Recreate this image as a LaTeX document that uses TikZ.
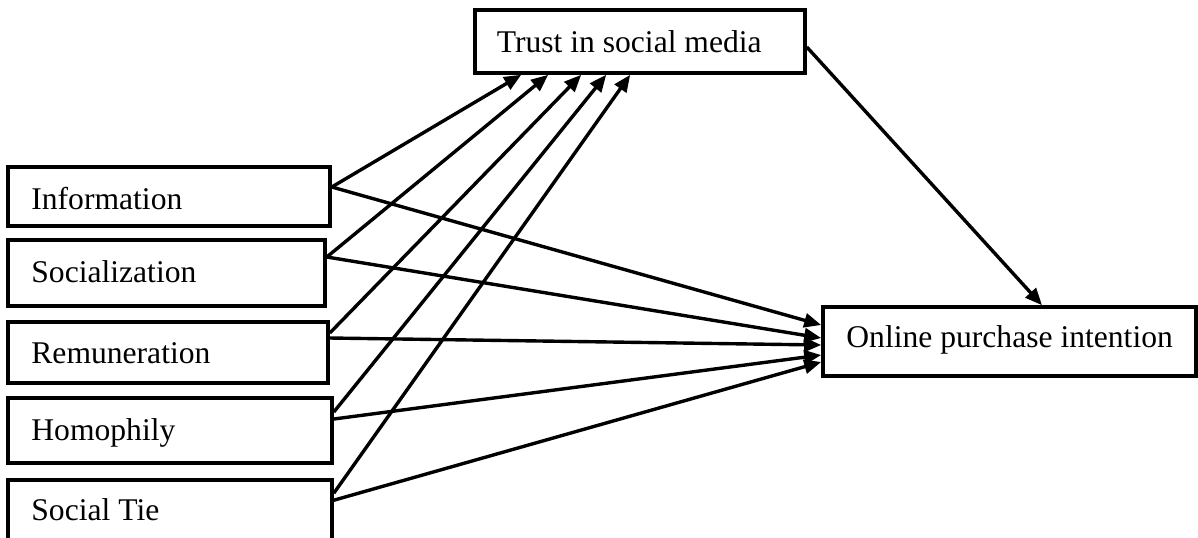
\documentclass[tikz,border=0pt]{standalone}
\usepackage{fontspec}
\setmainfont{Liberation Serif}
\usetikzlibrary{arrows.meta,calc}
\begin{document}
\begin{tikzpicture}[x=0.5pt,y=-0.5pt,
  box/.style={draw=black,line width=1.8pt,rectangle,inner sep=0pt,fill=white},
  lbl/.style={anchor=base west,inner sep=0pt,font=\fontsize{15.8}{19}\selectfont},
  link/.style={line width=1.7pt,-{Triangle[length=8.5pt,width=7pt]}}]
\clip (0,0) rectangle (1198,537);
\fill[white] (0,0) rectangle (1198,537);
% boxes
\node[box,minimum width=161pt,minimum height=29.5pt] (info) at (169,196.5) {};
\node[box,minimum width=158.5pt,minimum height=33pt] (soc) at (166.5,273) {};
\node[box,minimum width=160pt,minimum height=30.5pt] (rem) at (168,352.5) {};
\node[box,minimum width=162pt,minimum height=32.5pt] (hom) at (170,430.5) {};
\node[box,minimum width=162pt,minimum height=34pt] (tie) at (170,514) {};
\node[box,minimum width=165pt,minimum height=31.5pt] (trust) at (640,41.5) {};
\node[box,minimum width=186.5pt,minimum height=34.5pt] (onl) at (1009.5,341.5) {};
% labels
\node[lbl] (tinfo) at (31,209) {Information};
\node[lbl] (tsoc) at (31,282) {Socialization};
\node[lbl] (trem) at (31,363) {Remuneration};
\node[lbl] (thom) at (31,440) {Homophily};
\node[lbl] (ttie) at (31,520) {Social Tie};
\node[lbl] (ttrust) at (496.5,52) {Trust in social media};
\node[lbl] (tonl) at (846,347) {Online purchase intention};
% links to trust
\draw[link] ($(info.east)+(0,-9.5)$) -- ($(trust.south west)+(48,0)$);
\draw[link] ($(soc.east)+(0,-16)$) -- ($(trust.south west)+(75,0)$);
\draw[link] ($(rem.east)+(0,-19.5)$) -- ($(trust.south west)+(108,0)$);
\draw[link] ($(hom.east)+(0,-18.5)$) -- ($(trust.south west)+(133,0)$);
\draw[link] ($(tie.north east)+(0,15)$) -- ($(trust.south west)+(157,0)$);
% links to online
\draw[link] ($(info.east)+(0,-9.5)$) -- ($(onl.west)+(0,-16.5)$);
\draw[link] ($(soc.east)+(0,-16)$) -- ($(onl.west)+(0,-3.5)$);
\draw[link] ($(rem.east)+(0,-14.5)$) -- ($(onl.west)+(0,3.5)$);
\draw[link] ($(hom.east)+(0,-11.5)$) -- ($(onl.west)+(0,13.5)$);
\draw[link] ($(tie.north east)+(0,22)$) -- ($(onl.west)+(0,20.5)$);
% trust to online
\draw[link] ($(trust.east)+(0,5.5)$) -- ($(onl.north)+(32.5,0)$);
\end{tikzpicture}
\end{document}
